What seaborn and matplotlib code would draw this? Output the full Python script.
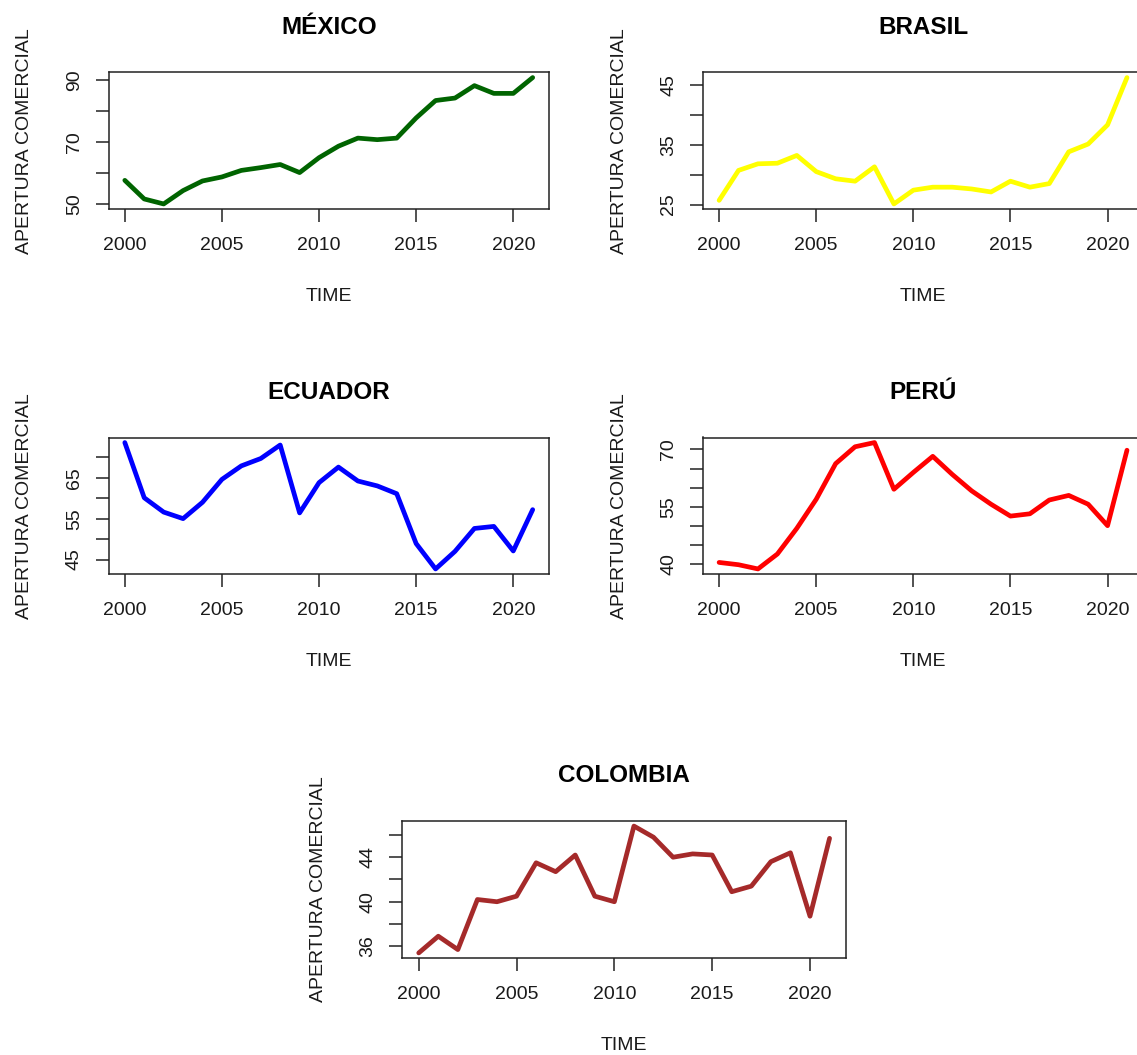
import numpy as np
import pandas as pd
import matplotlib
matplotlib.use("Agg")
import matplotlib.pyplot as plt
import seaborn as sns

years = list(range(2000, 2022))

mexico = [57.6, 51.6, 50.0, 54.3, 57.4, 58.7, 60.8, 61.7, 62.7, 60.1, 64.9,
          68.6, 71.2, 70.7, 71.2, 77.7, 83.3, 84.1, 88.1, 85.6, 85.6, 90.7]
brasil = [25.7, 30.7, 31.8, 31.9, 33.2, 30.5, 29.3, 28.9, 31.3, 25.1, 27.4,
          27.9, 27.9, 27.6, 27.1, 28.9, 27.9, 28.5, 33.8, 35.1, 38.3, 46.2]
ecuador = [73.6, 60.1, 56.6, 55.0, 59.0, 64.6, 67.9, 69.7, 73.0, 56.4, 63.8,
           67.6, 64.2, 63.0, 61.1, 48.9, 42.7, 47.0, 52.6, 53.1, 47.1, 57.2]
peru = [40.5, 39.9, 38.8, 42.7, 49.4, 57.0, 66.3, 70.7, 71.8, 59.6, 64.0,
        68.2, 63.5, 59.2, 55.7, 52.6, 53.2, 56.8, 58.0, 55.7, 50.1, 69.8]
colombia = [35.4, 36.9, 35.7, 40.2, 40.0, 40.5, 43.5, 42.7, 44.2, 40.5, 40.0,
            46.8, 45.8, 44.0, 44.3, 44.2, 40.9, 41.4, 43.6, 44.4, 38.7, 45.7]

titles = ["MÉXICO", "BRASIL", "ECUADOR", "PERÚ", "COLOMBIA"]
series = [mexico, brasil, ecuador, peru, colombia]
colors = ["#006400", "#FFFF00", "#0000FF", "#FF0000", "#A52A2A"]
x_ticks = [2000, 2005, 2010, 2015, 2020]
y_ticks = [[50, 60, 70, 80, 90], [25, 30, 35, 40, 45], [45, 50, 55, 60, 65, 70],
           [40, 45, 50, 55, 60, 65, 70], [36, 38, 40, 42, 44, 46]]
y_labels = [["50", "", "70", "", "90"], ["25", "", "35", "", "45"],
            ["45", "", "55", "", "65", ""], ["40", "", "", "55", "", "", "70"],
            ["36", "", "40", "", "44", ""]]

sns.set_theme(style="white")
plt.rcParams["font.family"] = ["Liberation Sans", "DejaVu Sans"]

W, H = 1137, 1055
fig = plt.figure(figsize=(W / 100, H / 100), dpi=100)

# panel boxes in pixels: left, top, width, height
boxes = [(108.5, 72.5, 440.5, 136.5), (702.8, 72.5, 440.5, 136.5),
         (108.5, 437.5, 440.5, 136.5), (702.8, 437.5, 440.5, 136.5),
         (402.3, 821.0, 443.7, 137.0)]

for i, (vals, title, col) in enumerate(zip(series, titles, colors)):
    l, t, w, h = boxes[i]
    ax = fig.add_axes([l / W, 1 - (t + h) / H, w / W, h / H])
    df = pd.DataFrame({"year": years, "value": vals})
    sns.lineplot(data=df, x="year", y="value", ax=ax, color=col, linewidth=3.4,
                 solid_joinstyle="round", solid_capstyle="round")
    xr = years[-1] - years[0]
    ax.set_xlim(years[0] - 0.04 * xr, years[-1] + 0.04 * xr)
    vmin, vmax = min(vals), max(vals)
    yr = vmax - vmin
    ax.set_ylim(vmin - 0.04 * yr, vmax + 0.04 * yr)
    ax.set_xticks(x_ticks)
    ax.set_xticklabels([str(v) for v in x_ticks], fontsize=14, color="#1a1a1a")
    ax.set_yticks(y_ticks[i])
    ax.set_yticklabels(y_labels[i], fontsize=14, rotation=90, va="center",
                       color="#1a1a1a")
    ax.tick_params(axis="both", direction="out", length=9.5, width=1.1,
                   color="#222222", left=True, bottom=True)
    ax.tick_params(axis="x", pad=11)
    ax.tick_params(axis="y", pad=9)
    for sp in ax.spines.values():
        sp.set_visible(True)
        sp.set_color("#222222")
        sp.set_linewidth(1.1)
    ax.grid(False)
    ax.set_facecolor("white")
    ax.set_title(title, fontsize=17.5, fontweight="bold", pad=28, color="#000000")
    ax.set_xlabel("TIME", fontsize=14, color="#1a1a1a")
    ax.set_ylabel("APERTURA COMERCIAL", fontsize=14, color="#1a1a1a")
    ax.xaxis.set_label_coords(0.5, -(86 - 7) / h)
    ax.yaxis.set_label_coords(-(86 - 11) / w, 0.5)

fig.savefig("out.png", dpi=100, facecolor="white")
